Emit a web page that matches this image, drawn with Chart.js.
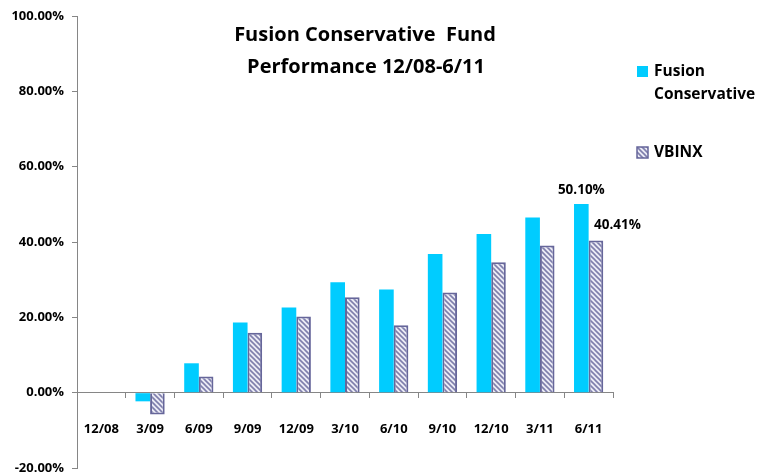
<!DOCTYPE html>
<html>
<head>
<meta charset="utf-8">
<script src="https://cdn.jsdelivr.net/npm/chart.js@4.4.3/dist/chart.umd.min.js"></script>
<style>
  html, body { margin: 0; padding: 0; background: #fff; }
  #wrap { position: relative; width: 759px; height: 475px; }
</style>
</head>
<body>
<div id="wrap"><canvas id="chart"></canvas></div>
<script>
  /* ── Data ───────────────────────────────────────────────── */
  const quarters    = ["12/08", "3/09", "6/09", "9/09", "12/09", "3/10", "6/10", "9/10", "12/10", "3/11", "6/11"];
  const fusionVals  = [0, -2.3, 7.8, 18.6, 22.6, 29.3, 27.4, 36.8, 42.1, 46.5, 50.10];
  const vbinxVals   = [0, -5.8, 4.3, 15.9, 20.2, 25.3, 17.9, 26.6, 34.6, 39.1, 40.41];
  const yTicks      = [-20, 0, 20, 40, 60, 80, 100];
  const titleLines  = ["Fusion Conservative  Fund", "Performance 12/08-6/11"];

  const FONT = "'Open Sans', sans-serif";
  const AXIS = "#868686";
  const CYAN = "#00ccff";
  const SLATE = "#66669a";

  /* ── Hatch fill for VBINX ───────────────────────────────── */
  function hatch() {
    const c = document.createElement("canvas");
    c.width = 5; c.height = 5;
    const g = c.getContext("2d");
    g.fillStyle = "#ececf5";
    g.fillRect(0, 0, 5, 5);
    g.strokeStyle = "#7e7eac";
    g.lineWidth = 1.6;
    g.beginPath();
    g.moveTo(-1, -1); g.lineTo(6, 6);
    g.moveTo(-4, 1);  g.lineTo(4, 9);
    g.moveTo(1, -4);  g.lineTo(9, 4);
    g.stroke();
    return g.createPattern(c, "repeat");
  }
  const hatchFill = hatch();

  /* ── Plugins: title, legend, value labels ───────────────── */
  const decor = {
    id: "decor",
    afterDraw(chart) {
      const ctx = chart.ctx;
      ctx.save();
      ctx.fillStyle = "#000";
      ctx.textAlign = "center";
      ctx.textBaseline = "middle";
      ctx.font = `bold 20px ${FONT}`;
      ctx.fillText(titleLines[0], 365, 35);
      ctx.fillText(titleLines[1], 366, 67);

      // legend
      ctx.textAlign = "left";
      ctx.font = `bold 15.5px ${FONT}`;
      ctx.fillStyle = CYAN;
      ctx.fillRect(637, 66, 11, 11);
      ctx.fillStyle = "#000";
      ctx.fillText("Fusion", 654, 72);
      ctx.fillText("Conservative", 654, 95);
      ctx.fillStyle = hatchFill;
      ctx.fillRect(637, 147, 11, 11);
      ctx.strokeStyle = SLATE;
      ctx.lineWidth = 1.5;
      ctx.strokeRect(637, 147, 11, 11);
      ctx.fillStyle = "#000";
      ctx.fillText("VBINX", 654, 153);

      // end-point labels
      ctx.font = `bold 13.5px ${FONT}`;
      const last = quarters.length - 1;
      const b0 = chart.getDatasetMeta(0).data[last];
      const b1 = chart.getDatasetMeta(1).data[last];
      ctx.textAlign = "center";
      ctx.fillText(fusionVals[last].toFixed(2) + "%", b0.x, b0.y - 14);
      ctx.textAlign = "left";
      ctx.fillText(vbinxVals[last].toFixed(2) + "%", b1.x - 2, b1.y - 15);
      ctx.restore();
    }
  };

  new Chart(document.getElementById("chart"), {
    type: "bar",
    data: {
      labels: quarters,
      datasets: [
        { label: "Fusion Conservative", data: fusionVals, backgroundColor: CYAN, borderWidth: 0 },
        { label: "VBINX", data: vbinxVals, backgroundColor: hatchFill, borderColor: SLATE, borderWidth: 2 },
      ],
    },
    options: {
      responsive: true,
      maintainAspectRatio: false,
      animation: false,
      layout: { padding: { top: 16, right: 146, bottom: 7, left: 0 } },
      datasets: { bar: { categoryPercentage: 0.6, barPercentage: 1.0 } },
      plugins: { legend: { display: false }, tooltip: { enabled: false } },
      scales: {
        x: {
          position: { y: 0 },
          afterFit: (s) => { s.height = 0; s.paddingLeft = 0; s.paddingRight = 0; },
          grid: { offset: true, drawOnChartArea: false, tickLength: 5, color: AXIS },
          border: { color: AXIS, width: 1 },
          ticks: { color: "#000", font: { family: FONT, size: 13, weight: "bold" }, padding: 24, maxRotation: 0 },
        },
        y: {
          min: -20, max: 100,
          afterBuildTicks: (s) => { s.ticks = yTicks.map((v) => ({ value: v })); },
          afterFit: (s) => { s.width = 77; s.paddingTop = 0; s.paddingBottom = 0; },
          grid: { drawOnChartArea: false, tickLength: 5, color: AXIS },
          border: { color: AXIS, width: 1 },
          ticks: {
            color: "#000", padding: 8,
            font: { family: FONT, size: 13, weight: "bold" },
            callback: (v) => v.toFixed(2) + "%",
          },
        },
      },
    },
    plugins: [decor],
  });
</script>
</body>
</html>
